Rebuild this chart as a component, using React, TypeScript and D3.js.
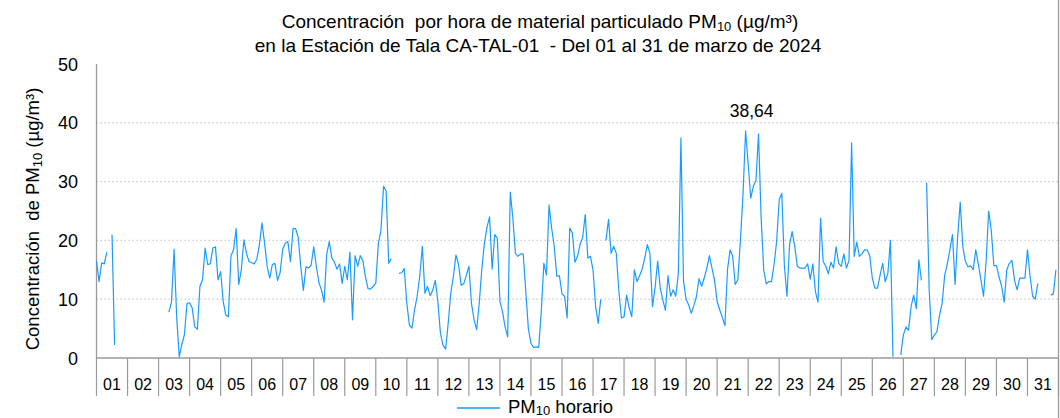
import { useEffect } from 'react';
import * as d3 from 'd3';

// PM10 horario, Tala CA-TAL-01, marzo 2024 – leído cada 2 horas (12 valores por día)
const dias01a07: (number | null)[][] = [
  [16.5, 13, 16.2, 16, 18, null, 21, 2.2, null, null, null, null],
  [null, null, null, null, null, null, null, null, null, null, null, null],
  [null, null, null, null, 7.8, 9.5, 18.5, 7, 0.2, 2.3, 4, 9.3],
  [9.4, 8.5, 5.3, 4.9, 12.2, 13.3, 18.7, 15.9, 16, 18.7, 18.9, 13.3],
  [14.7, 9.6, 7.3, 7, 17.4, 18.4, 22, 12.5, 15, 20.1, 17.8, 16.4],
  [16.2, 16, 16.8, 19.3, 23, 19.5, 15.6, 13.6, 15.9, 16.1, 13.2, 14.5],
  [18.5, 19.5, 19.8, 16.4, 22, 22, 20.5, 15.5, 11.5, 15.5, 15.3, 15.8],
];
const dias08a14: (number | null)[][] = [
  [18.9, 15.6, 12.8, 11.6, 9.5, 17.6, 19.8, 17, 16.3, 15.1, 16, 12.7],
  [15.6, 13.3, 18, 6.5, 17.4, 15.6, 17.4, 16.6, 13.8, 11.8, 11.7, 12.2],
  [12.7, 19.5, 21.7, 29.2, 28.4, 16.1, 16.9, null, null, 14.4, 14.5, 15.2],
  [9.3, 5.6, 5.1, 8.2, 10.5, 13.9, 19, 11, 12.2, 10.6, 11.5, 13.2],
  [9.6, 4.2, 2.2, 1.5, 5.9, 11, 13.9, 17.5, 15.9, 12.4, 12.6, 14],
  [15.6, 9.3, 6.5, 4.8, 9.3, 15.1, 19.5, 22.2, 24, 15.1, 21, 20.4],
  [9.6, 7.9, 5.3, 3.6, 28.2, 23.8, 17.8, 17.3, 17.7, 17.7, 11.3, 5],
];
const dias15a21: (number | null)[][] = [
  [2.5, 1.8, 1.9, 1.8, 7.9, 16.1, 14.1, 26, 22.1, 19, 13.9, 14],
  [10.9, 10.5, 6.8, 22.1, 21.3, 16.3, 17.3, 19.3, 20.5, 24.4, 17, 17.3],
  [15, 8.8, 5.9, 10, null, 20, 23.6, 17.8, 19, 17.8, 11.3, 6.8],
  [7, 10.7, 8.5, 7, 15, 13, 14, 15.1, 17, 19.3, 17.8, 8.75],
  [12, 16.5, 11.9, 9.9, 8.1, 14, 10.5, 11.6, 10.5, 14.4, 37.4, 13],
  [10, 9, 7.6, 8.9, 10.5, 13.5, 12.2, 13.6, 15.3, 17.4, 15.3, 13.2],
  [9.6, 8.2, 6.9, 5.5, 15, 18.4, 17.3, 12.5, 13.3, 20, 27.8, 38.64],
];
const dias22a28: (number | null)[][] = [
  [33, 27.2, 29.2, 30.2, 38.1, 24, 15, 12.6, 13, 13, 15.9, 19.8],
  [26.9, 28, 15.7, 10.5, 19.3, 21.5, 19, 15.6, 15.3, 15.3, 15.3, 16],
  [13.4, 16, 11.3, 9.5, 23.8, 16.4, 15.6, 14.3, 16.3, 15.3, 18.9, 16.1],
  [15.6, 17.7, 15.3, 16.6, 36.6, 17.3, 19.7, 17.3, 17.7, 18.4, 18.4, 17.4],
  [13.6, 11.9, 11.9, 14.1, 16.1, 13, 14.3, 20, 0.2, null, null, 0.5],
  [3.9, 5.3, 4.7, 8.75, 10.7, 8.4, 16.7, 13.2, null, 29.8, 11.6, 3.1],
  [3.9, 4.5, 7.3, 9.3, 14.1, 16, 18.4, 21, 12.5, 20.6, 26.5, 18.9],
];
const dias29a31: (number | null)[][] = [
  [16.4, 15.5, 15.7, 15, 18.4, 16, 13.3, 10.5, 16.4, 25, 21.7, 15.7],
  [15.7, 13.8, 12.2, 9.5, 15, 16.1, 16.6, 13.2, 11.6, 13.6, 13.6, 13.6],
  [18.4, 13.9, 10.5, 10, 12.7, null, null, null, null, 10.7, 10.9, 15],
];

const dayLabels = d3.range(1, 32).map((d) => String(d).padStart(2, '0'));
const yTicks = [0, 10, 20, 30, 40, 50];
const maxLabel = '38,64';

const W = 1060;
const H = 418;
const FONT = 'Liberation Sans, Arial, sans-serif';
const NB = '\u00a0';

export default function App() {
  useEffect(() => {
    document.body.style.margin = '0';
  }, []);

  const all = [...dias01a07, ...dias08a14, ...dias15a21, ...dias22a28, ...dias29a31];
  const points = all.flatMap((day, d) => day.map((v, k) => ({ h: d * 24 + k * 2, v })));

  const left = 96.5;
  const right = 1058.5;
  const top = 64;
  const bottom = 358;

  const x = d3.scaleLinear().domain([0, 31 * 24]).range([left, right]);
  const y = d3.scaleLinear().domain([0, 50]).range([bottom, top]);

  const line = d3
    .line<{ h: number; v: number | null }>()
    .defined((p) => p.v !== null)
    .x((p) => x(p.h))
    .y((p) => y(p.v as number));

  const peak = points.reduce((a, b) => ((b.v ?? -1) > (a.v ?? -1) ? b : a));

  return (
    <svg width={W} height={H} style={{ display: 'block', fontFamily: FONT }}>
      <rect x={0} y={0} width={W} height={H} fill="#fff" />

      {/* titulo */}
      <text x={540} y={28} textAnchor="middle" fontSize={19} fill="#000">
        {`Concentración${NB} por hora de material particulado PM`}
        <tspan fontSize={13} dy={3}>10</tspan>
        <tspan dy={-3}> (µg/m³)</tspan>
      </text>
      <text x={538} y={52} textAnchor="middle" fontSize={19} fill="#000">
        {`en la Estación de Tala CA-TAL-01${NB} - Del 01 al 31 de marzo de 2024`}
      </text>

      {/* rejilla */}
      {yTicks.filter((t) => t > 0 && t < 50).map((t) => (
        <line key={t} x1={left} x2={right} y1={y(t)} y2={y(t)} stroke="#c8c8c8" strokeWidth={1.3} strokeDasharray="1.5,2.5" />
      ))}

      {/* ejes */}
      <line x1={left} x2={left} y1={top} y2={bottom} stroke="#9a9a9a" strokeWidth={1.3} />
      <line x1={right} x2={right} y1={0} y2={H} stroke="#9a9a9a" strokeWidth={1.3} />
      <line x1={left} x2={right} y1={bottom} y2={bottom} stroke="#9a9a9a" strokeWidth={1.3} />
      {d3.range(0, 32).map((i) => (
        <line key={i} x1={x(i * 24)} x2={x(i * 24)} y1={bottom} y2={396} stroke="#9a9a9a" strokeWidth={1.2} />
      ))}

      {yTicks.map((t) => (
        <text key={t} x={78} y={y(t) + 6.5} textAnchor="end" fontSize={18} fill="#000">
          {t}
        </text>
      ))}
      {dayLabels.map((lab, i) => (
        <text key={lab} x={x(i * 24 + 12)} y={390} textAnchor="middle" fontSize={16} fill="#000">
          {lab}
        </text>
      ))}

      <text transform={`translate(39,219) rotate(-90)`} textAnchor="middle" fontSize={18.5} fill="#000">
        {`Concentración${NB} de PM`}
        <tspan fontSize={13} dy={3}>10</tspan>
        <tspan dy={-3}> (µg/m³)</tspan>
      </text>

      {/* serie */}
      <path d={line(points) ?? ''} fill="none" stroke="#1a9cff" strokeWidth={1.2} strokeLinejoin="round" />

      <text x={x(peak.h) + 6} y={y(peak.v as number) - 14} textAnchor="middle" fontSize={17.5} fill="#000">
        {maxLabel}
      </text>

      {/* leyenda */}
      <line x1={457} x2={500} y1={408} y2={408} stroke="#1a9cff" strokeWidth={1.3} />
      <text x={508} y={413} fontSize={18.5} fill="#000">
        PM
        <tspan fontSize={13} dy={2}>10</tspan>
        <tspan dy={-2}> horario</tspan>
      </text>
    </svg>
  );
}
